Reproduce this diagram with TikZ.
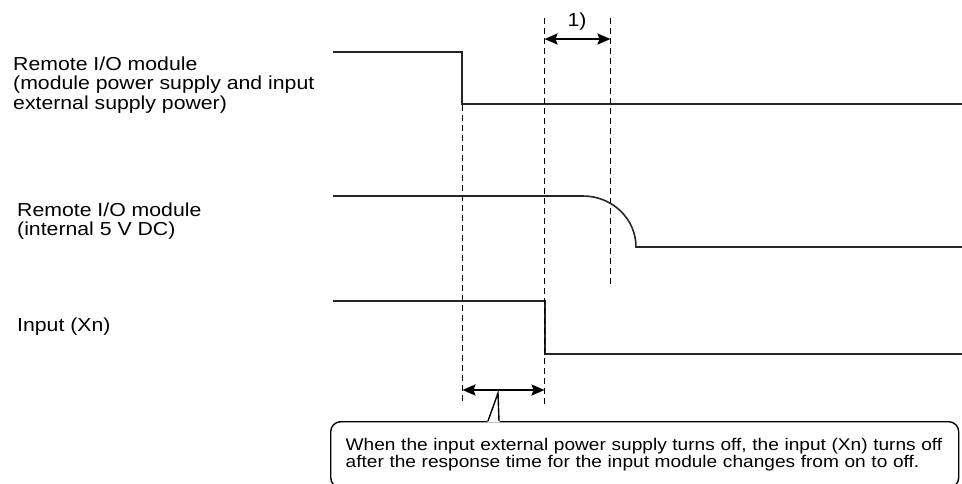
\documentclass[tikz,border=0pt]{standalone}
\usepackage{fontspec}
\setmainfont{Liberation Sans}[FakeStretch=1.13]
\usetikzlibrary{arrows.meta}

\tikzset{
  signal/.style={line width=1.6pt, black!85},
  guide/.style={line width=1.1pt, dash pattern=on 6pt off 4pt},
  span/.style={line width=2pt,
    {Stealth[length=13pt,width=11pt,inset=2pt]}-{Stealth[length=13pt,width=11pt,inset=2pt]}},
  lbl/.style={font=\fontsize{18.8}{19.5}\selectfont, align=left, anchor=north west, inner sep=0pt},
  note/.style={draw, line width=1.4pt, rounded corners=10pt, anchor=north west,
    font=\fontsize{16.9}{17.5}\selectfont, align=left, text width=598pt,
    inner xsep=15pt, minimum height=66pt}
}

\begin{document}
\begin{tikzpicture}[x=1pt, y=-1pt]
  \useasboundingbox (0,0) rectangle (962,483);

  % signal names
  \node[lbl] (supply) at (13,56.5) {Remote I/O module\\(module power supply and input\\external supply power)};
  \node[lbl] (int5v) at (17,202.3) {Remote I/O module\\(internal 5 V DC)};
  \node[lbl] (input) at (17,317.5) {Input (Xn)};

  % module power supply and input external supply power
  \coordinate (A1) at (333,52);
  \coordinate (B1) at (462,52);
  \coordinate (C1) at (462,104);
  \coordinate (D1) at (962,104);
  \draw[signal] (A1) -- (B1) -- (C1) -- (D1);

  % internal 5 V DC
  \coordinate (A2) at (333,196);
  \coordinate (B2) at (583,196);
  \coordinate (C2) at (636,247);
  \coordinate (D2) at (962,247);
  \draw[signal] (A2) -- (B2) .. controls (612.3,196) and (636,218.8) .. (C2) -- (D2);

  % input (Xn)
  \coordinate (A3) at (333,301);
  \coordinate (B3) at (545,301);
  \coordinate (C3) at (545,354);
  \coordinate (D3) at (962,354);
  \draw[signal] (A3) -- (B3) -- (C3) -- (D3);

  % guides
  \coordinate (G1t) at (462.5,105);
  \coordinate (G1b) at (462.5,405);
  \coordinate (G2t) at (544.5,18);
  \coordinate (G2b) at (544.5,405);
  \coordinate (G3t) at (610.5,18);
  \coordinate (G3b) at (610.5,285);
  \draw[guide] (G1t) -- (G1b);
  \draw[guide] (G2t) -- (G2b);
  \draw[guide] (G3t) -- (G3b);

  % 1)
  \coordinate (P1) at (544.5,39);
  \coordinate (P2) at (610.5,39);
  \draw[span] (P1) -- (P2);
  \node[lbl, anchor=center] (t1) at (577,22) {1)};

  % response time
  \coordinate (R1) at (462.5,390);
  \coordinate (R2) at (544.5,390);
  \draw[span] (R1) -- (R2);

  % callout
  \node[note] (msg) at (330,421) {When the input external power supply turns off, the input (Xn) turns off\\after the response time for the input module changes from on to off.};
  \coordinate (tip) at (498,393);
  \coordinate (baseL) at (488,421);
  \coordinate (baseR) at (499,421);
  \fill[white] (487.3,422.3) -- (tip) -- (499.7,422.3) -- cycle;
  \draw[line width=1.4pt] (baseL) -- (tip) -- (baseR);
\end{tikzpicture}
\end{document}
